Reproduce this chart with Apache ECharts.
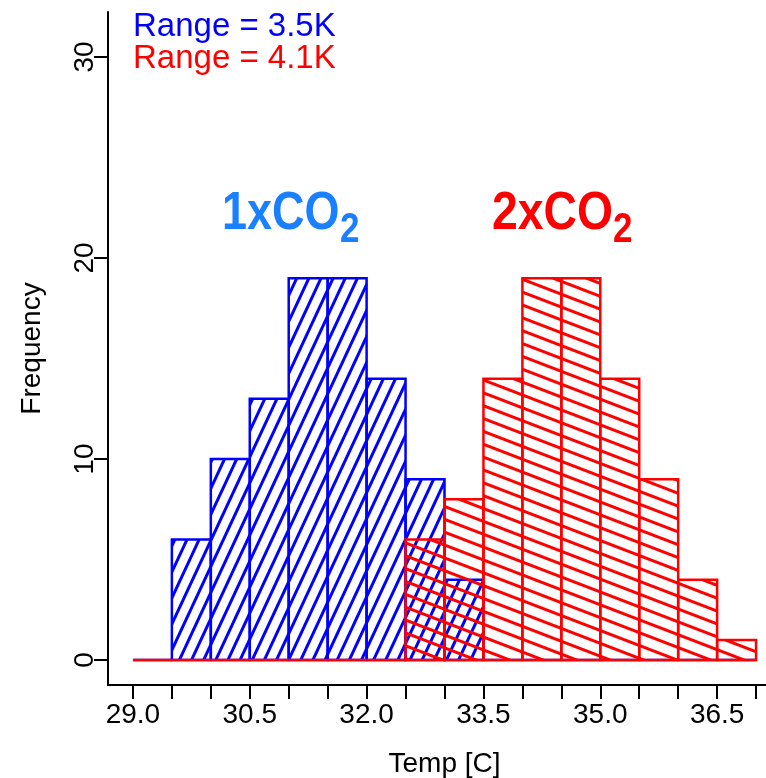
<!DOCTYPE html>
<html>
<head>
<meta charset="utf-8">
<script src="https://cdn.jsdelivr.net/npm/echarts@6/dist/echarts.min.js"></script>
<style>
  html, body { margin: 0; padding: 0; background: #fff; }
  #chart { width: 766px; height: 778px; }
</style>
</head>
<body>
<div id="chart"></div>
<script>
// histogram breaks (Temp [C]) and counts per bin
var breaks = [29.0, 29.5, 30.0, 30.5, 31.0, 31.5, 32.0, 32.5, 33.0, 33.5, 34.0, 34.5, 35.0, 35.5, 36.0, 36.5, 37.0];
var countsCO2x1 = [0, 6, 10, 13, 19, 19, 14, 9, 4, 0, 0, 0, 0, 0, 0, 0];
var countsCO2x2 = [0, 0, 0, 0, 0, 0, 0, 6, 8, 14, 19, 19, 14, 9, 4, 1];

// axis ticks
var xTicks = [29.0, 29.5, 30.0, 30.5, 31.0, 31.5, 32.0, 32.5, 33.0, 33.5, 34.0, 34.5, 35.0, 35.5, 36.0, 36.5, 37.0];
var xLabels = [29.0, 30.5, 32.0, 33.5, 35.0, 36.5];
var yTicks = [0, 10, 20, 30];

var FONT = '"Liberation Sans", Arial, Helvetica, sans-serif';

function binData(counts) {
  var out = [];
  counts.forEach(function (n, i) {
    out.push([breaks[i], breaks[i + 1], n]);
  });
  return out;
}

// hatch fill like R's density/angle shading
function hatch(color, period, angleDeg) {
  var c = document.createElement('canvas');
  c.width = period;
  c.height = period;
  var ctx = c.getContext('2d');
  ctx.fillStyle = color;
  ctx.fillRect(0, 0, period, 3);
  return { image: c, repeat: 'repeat', rotation: angleDeg * Math.PI / 180 };
}

function histRender(color, pattern) {
  return function (params, api) {
    var p0 = api.coord([api.value(0), api.value(2)]);
    var p1 = api.coord([api.value(1), 0]);
    return {
      type: 'rect',
      shape: { x: p0[0], y: p0[1], width: p1[0] - p0[0], height: p1[1] - p0[1] },
      style: { fill: pattern, stroke: color, lineWidth: 2.5 }
    };
  };
}

var chart = echarts.init(document.getElementById('chart'));

chart.setOption({
  animation: false,
  backgroundColor: '#fff',
  grid: { left: 108, right: -15, top: 12, bottom: 93, outerBoundsMode: 'none', containLabel: false },
  xAxis: {
    type: 'value',
    min: 28.68,
    max: 37.32,
    name: 'Temp [C]',
    nameLocation: 'middle',
    nameGap: 65,
    nameMoveOverlap: false,
    nameTextStyle: { fontFamily: FONT, fontSize: 28, color: '#000' },
    axisLine: { show: true, onZero: false, lineStyle: { color: '#000', width: 2 } },
    axisTick: { show: true, length: 14, lineStyle: { color: '#000', width: 2 }, customValues: xTicks },
    axisLabel: {
      customValues: xLabels,
      margin: 16,
      hideOverlap: false,
      fontFamily: FONT, fontSize: 28, color: '#000',
      formatter: function (v) { return v.toFixed(1); }
    },
    splitLine: { show: false }
  },
  yAxis: {
    type: 'value',
    min: -1.24,
    max: 32.24,
    name: 'Frequency',
    nameLocation: 'middle',
    nameRotate: 90,
    nameGap: 62,
    nameMoveOverlap: false,
    nameTextStyle: { fontFamily: FONT, fontSize: 28, color: '#000' },
    axisLine: { show: true, onZero: false, lineStyle: { color: '#000', width: 2 } },
    axisTick: { show: true, length: 14, lineStyle: { color: '#000', width: 2 }, customValues: yTicks },
    axisLabel: {
      customValues: yTicks,
      rotate: 90,
      margin: 9,
      fontFamily: FONT, fontSize: 28, color: '#000'
    },
    splitLine: { show: false }
  },
  series: [
    {
      name: '1xCO2',
      type: 'custom',
      renderItem: histRender('#0000ff', hatch('#0000ff', 11, -65)),
      encode: { x: [0, 1], y: 2 },
      data: binData(countsCO2x1)
    },
    {
      name: '2xCO2',
      type: 'custom',
      renderItem: histRender('#ff0000', hatch('#ff0000', 12, 21)),
      encode: { x: [0, 1], y: 2 },
      data: binData(countsCO2x2)
    }
  ],
  graphic: [
    { type: 'text', x: 133, y: 27, style: { text: 'Range = 3.5K', fill: '#0000ff', font: '33px ' + FONT, textVerticalAlign: 'middle' } },
    { type: 'text', x: 133, y: 59, style: { text: 'Range = 4.1K', fill: '#ff0000', font: '33px ' + FONT, textVerticalAlign: 'middle' } },
    { type: 'text', x: 222, y: 214, scaleY: 1.2, style: { text: '1xCO', fill: '#1a80ff', font: 'bold 45px ' + FONT, textVerticalAlign: 'middle' } },
    { type: 'text', x: 340, y: 230, scaleY: 1.2, style: { text: '2', fill: '#1a80ff', font: 'bold 35px ' + FONT, textVerticalAlign: 'middle' } },
    { type: 'text', x: 492, y: 214, scaleX: 1.03, scaleY: 1.2, style: { text: '2xCO', fill: '#ff0000', font: 'bold 45px ' + FONT, textVerticalAlign: 'middle' } },
    { type: 'text', x: 613, y: 230, scaleY: 1.2, style: { text: '2', fill: '#ff0000', font: 'bold 35px ' + FONT, textVerticalAlign: 'middle' } }
  ]
});
</script>
</body>
</html>
